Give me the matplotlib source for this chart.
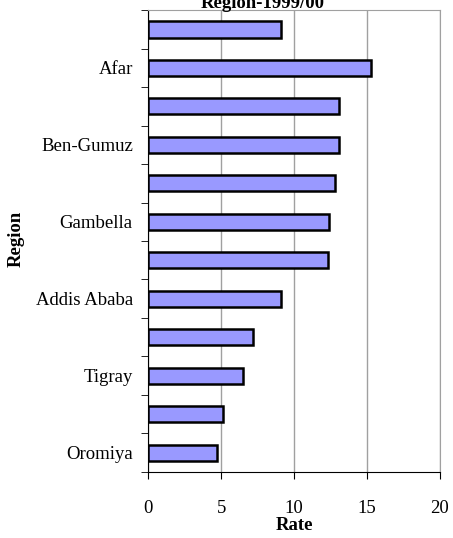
import numpy as np
import matplotlib.pyplot as plt

plt.rcParams['font.family'] = ['Liberation Serif', 'DejaVu Serif']

# ---- Data (bottom to top) ----
regions = ["Oromiya", "Amhara", "Tigray", "SNNPR", "Addis Ababa", "Somali",
           "Gambella", "Harari", "Ben-Gumuz", "Dire Dawa", "Afar", "Total"]
rates = [4.7, 5.1, 6.5, 7.2, 9.1, 12.3, 12.4, 12.8, 13.1, 13.1, 15.3, 9.1]
shown = [0, 2, 4, 6, 8, 10]   # only every other label fits

fig = plt.figure(figsize=(4.53, 5.38), dpi=100)
ax = fig.add_axes([0.327, 0.123, 0.644, 0.858])

y = np.arange(len(regions))
ax.barh(y, rates, height=0.42, color="#9999ff", edgecolor="black", lw=1.8, zorder=3)

ax.set_xlim(0, 20)
ax.set_ylim(-0.5, len(regions) - 0.5)
ax.set_xticks([0, 5, 10, 15, 20])
ax.grid(axis="x", color="#a0a0a0", lw=1.0, zorder=0)
ax.tick_params(axis="x", direction="out", length=5, pad=15, labelsize=13.5)

ax.set_yticks(y[shown])
ax.set_yticklabels([regions[i] for i in shown], fontsize=13.5)
ax.set_yticks(np.arange(-0.5, len(regions), 1), minor=True)
ax.tick_params(axis="y", which="major", length=0, pad=11)
ax.tick_params(axis="y", which="minor", direction="out", length=5)

for s in ["top", "right"]:
    ax.spines[s].set_color("#a0a0a0")
for s in ["left", "bottom"]:
    ax.spines[s].set_color("black")

ax.set_xlabel("Rate", fontsize=13.5, fontweight="bold", labelpad=0)
ax.set_ylabel("Region", fontsize=13.5, fontweight="bold")
ax.yaxis.set_label_coords(-0.423, 0.505)
fig.text(0.58, 0.993, "Region-1999/00", ha="center", va="center",
         fontsize=13.5, fontweight="bold")

plt.savefig("out.png", dpi=100)
